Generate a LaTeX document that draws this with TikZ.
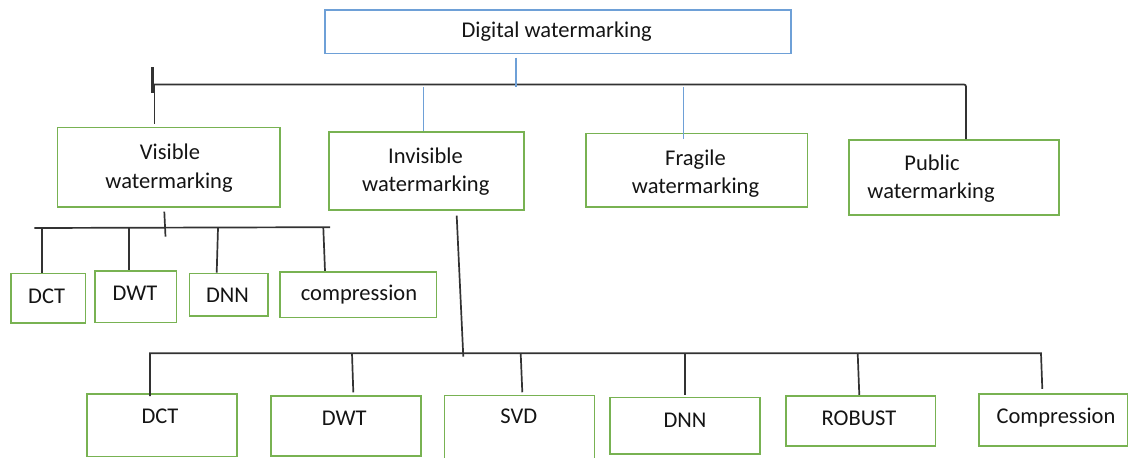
\documentclass[tikz,border=0pt]{standalone}
\usepackage{fontspec}
\setmainfont{Carlito}
\definecolor{boxgreen}{RGB}{120,178,82}
\definecolor{boxblue}{RGB}{110,160,215}
\definecolor{linegray}{RGB}{50,50,50}
\definecolor{txtcol}{RGB}{20,20,20}
\begin{document}
\begin{tikzpicture}[x=1pt,y=-1pt,
  box/.style n args={2}{draw=boxgreen,line width=1.6pt,inner sep=0pt,minimum width=#1pt,minimum height=#2pt},
  topbox/.style n args={2}{draw=boxblue,line width=1.6pt,inner sep=0pt,minimum width=#1pt,minimum height=#2pt},
  txt/.style={font=\fontsize{22.5}{27}\selectfont,anchor=base,inner sep=0pt,text=txtcol},
  conn/.style={draw=linegray,line width=1.7pt},
  bconn/.style={draw=boxblue,line width=1.6pt}]
\useasboundingbox (0,0) rectangle (1128,458);
% boxes
\node[topbox={466}{43.3}] (top) at (558,31.7) {};
\node[box={222.7}{79.4}] (vis) at (168.7,167) {};
\node[box={195}{78.3}] (inv) at (426.5,170.9) {};
\node[box={221.6}{73.4}] (fra) at (696.5,170) {};
\node[box={210}{75}] (pub) at (954,177.5) {};
\node[box={74.6}{49.4}] (vdct) at (48,298) {};
\node[box={81.7}{51.3}] (vdwt) at (135.8,296.7) {};
\node[box={78.4}{42.7}] (vdnn) at (228.5,294.7) {};
\node[box={156.7}{45.6}] (vcmp) at (358.3,294.5) {};
\node[box={150}{62.7}] (idct) at (161.7,425.3) {};
\node[box={150}{60}] (idwt) at (345.7,425.7) {};
\node[box={150}{74.3}] (isvd) at (519.3,432.8) {};
\node[box={150}{56.7}] (idnn) at (685,425.7) {};
\node[box={149.6}{50.3}] (irob) at (860.5,420.9) {};
\node[box={148.5}{52}] (icmp) at (1053.3,420) {};
% texts
\node[txt] (top-t) at (556.7,37.3) {Digital watermarking};
\node[txt] (vis-t1) at (170,159) {Visible};
\node[txt] (vis-t2) at (169,188) {watermarking};
\node[txt] (inv-t1) at (425.5,163) {Invisible};
\node[txt] (inv-t2) at (425.8,191.7) {watermarking};
\node[txt] (fra-t1) at (695.5,165) {Fragile};
\node[txt] (fra-t2) at (695.5,193.3) {watermarking};
\node[txt] (pub-t1) at (932,170) {Public};
\node[txt] (pub-t2) at (931,198.3) {watermarking};
\node[txt] (vdct-t) at (46.7,303.3) {DCT};
\node[txt] (vdwt-t) at (135,300.7) {DWT};
\node[txt] (vdnn-t) at (227.5,302.7) {DNN};
\node[txt] (vcmp-t) at (359,300.7) {compression};
\node[txt] (idct-t) at (160,423.3) {DCT};
\node[txt] (idwt-t) at (344.3,425) {DWT};
\node[txt] (isvd-t) at (518.7,423.3) {SVD};
\node[txt] (idnn-t) at (685,427.3) {DNN};
\node[txt] (irob-t) at (859,425) {ROBUST};
\node[txt] (icmp-t) at (1056,423.3) {Compression};
% main bus
\coordinate (tickA) at (152,67);
\coordinate (tickB) at (152,93);
\coordinate (busL) at (153,84.5);
\coordinate (busR) at (966,84.5);
\coordinate (jVis) at (154.5,84.5);
\coordinate (jTop) at (516,87.3);
\coordinate (jInv) at (423.3,87);
\coordinate (jFra) at (683.3,87);
\draw[draw=linegray,line width=3pt] (tickA) -- (tickB);
\draw[conn,rounded corners=2pt] (busL) -- (busR) -- (busR |- pub.north);
\draw[conn] (jVis) -- ([yshift=3pt]jVis |- vis.north);
\draw[bconn] ([yshift=-3.4pt]jTop |- top.south) -- (jTop);
\draw[bconn] (jInv) -- (jInv |- inv.north);
\draw[bconn] (jFra) -- ([yshift=-6.5pt]jFra |- fra.north);
% visible sub-bus
\coordinate (vStubA) at (164.3,211.7);
\coordinate (vStubB) at (165.5,236.7);
\coordinate (vBusL) at (34.3,228);
\coordinate (vBusR) at (330,227.2);
\draw[conn] (vStubA) -- (vStubB);
\draw[conn] (vBusL) -- (vBusR);
\coordinate (v1) at (41.7,228);
\coordinate (v2) at (129.3,228);
\coordinate (v3) at (218,228);
\coordinate (v4) at (323.3,227.4);
\draw[conn] (v1) -- (v1 |- vdct.north);
\draw[conn] (v2) -- (v2 |- vdwt.north);
\draw[conn] (v3) -- ([xshift=-1.3pt]v3 |- vdnn.north);
\draw[conn] (v4) -- ([xshift=1.7pt]v4 |- vcmp.north);
% invisible sub-bus
\coordinate (iStubA) at (456.7,215.7);
\coordinate (iStubB) at (463.3,356.7);
\coordinate (iBusL) at (150,353.3);
\coordinate (iBusR) at (1041,353.3);
\draw[conn] (iStubA) -- (iStubB);
\draw[conn] (iBusL |- idct.north) ++(0,3) -- (iBusL) -- (iBusR) -- ([xshift=1.3pt,yshift=4.3pt]iBusR |- icmp.north);
\coordinate (b2) at (352,353.3);
\coordinate (b3) at (520.7,353.3);
\coordinate (b4) at (685,353.3);
\coordinate (b5) at (857.7,353.3);
\draw[conn] (b2) -- ([xshift=1.3pt,yshift=2.6pt]b2 |- idwt.north);
\draw[conn] (b3) -- ([xshift=1.6pt,yshift=2.6pt]b3 |- isvd.north);
\draw[conn] (b4) -- ([yshift=1.7pt]b4 |- idnn.north);
\draw[conn] (b5) -- ([xshift=1.6pt]b5 |- irob.north);
\end{tikzpicture}
\end{document}
